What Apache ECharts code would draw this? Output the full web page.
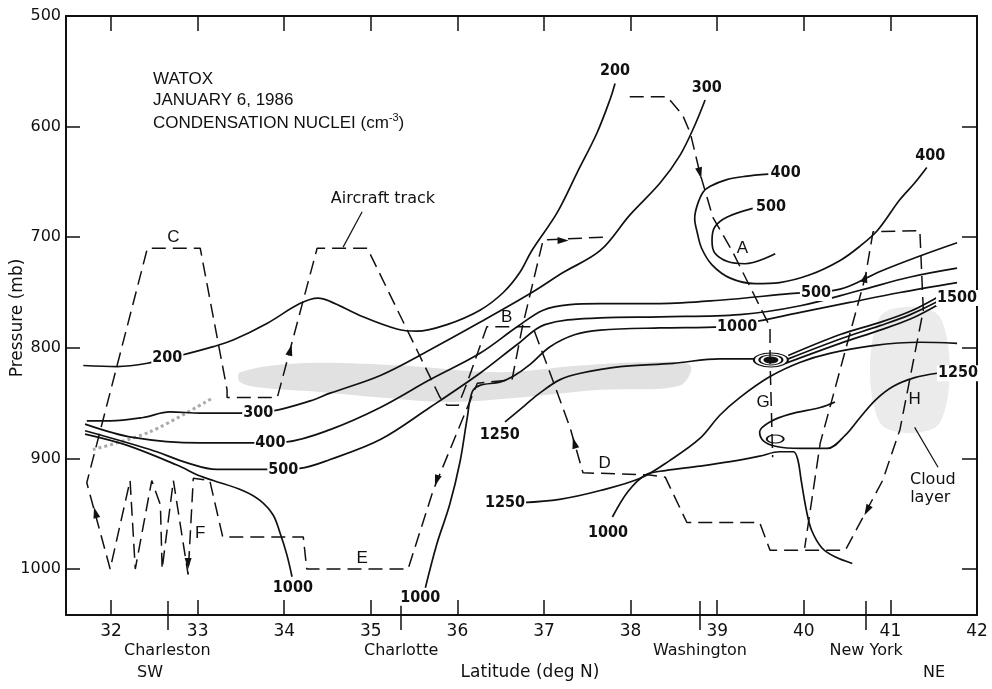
<!DOCTYPE html>
<html><head><meta charset="utf-8">
<script src="https://cdn.jsdelivr.net/npm/echarts@6.0.0/dist/echarts.min.js"></script>
<style>html,body{margin:0;padding:0;background:#fff}#c{width:992px;height:689px}</style>
</head><body><div id="c"></div>
<script>
// ---------- axes ----------
const latTicks = [32,33,34,35,36,37,38,39,40,41,42];
const pressureTicks = [500,600,700,800,900,1000];
const cityLat = [32.65, 35.35, 38.8, 40.72];
const cityNames = ['Charleston','Charlotte','Washington','New York'];

// ---------- contour lines [lat, pressure] ----------
const c200 = [[31.68,816],[32.07,817],[32.42,814],[32.80,807],[33.18,799],[33.41,793],[33.80,778],[34.18,760],[34.39,755],[34.53,758],[34.91,772],[35.30,783],[35.53,785],[35.88,779],[36.26,766],[36.53,750],[36.72,732],[36.86,712],[37.15,678],[37.38,642],[37.61,606],[37.76,576],[37.82,561]];
const c300 = [[31.72,866],[31.99,866],[32.37,863],[32.68,858],[33.03,859],[33.49,859],[33.87,857],[34.30,848],[34.53,841],[35.11,825],[35.68,802],[36.26,777],[36.84,751],[37.22,732],[37.65,712],[37.99,680],[38.34,651],[38.57,626],[38.74,599],[38.86,576]];
const c400 = [[31.70,869],[32.25,881],[33.03,886],[33.64,886],[34.03,885],[34.53,874],[35.11,854],[35.68,829],[36.26,805],[36.69,781],[36.99,766],[37.30,761],[37.65,760],[38.34,760],[39.03,757],[39.84,751],[40.42,747],[40.88,731],[41.34,717],[41.77,705]];
const c500 = [[31.70,875],[32.45,892],[32.88,904],[33.22,910],[33.80,910],[34.18,909],[34.53,901],[35.11,883],[35.68,854],[36.26,823],[36.69,797],[37.01,779],[37.65,773],[38.34,772],[39.26,770],[39.96,762],[40.65,748],[41.23,736],[41.77,728]];
const c1000west = [[31.70,878],[32.18,888],[32.76,906],[33.03,916],[33.18,920],[33.52,929],[33.72,938],[33.87,951],[33.95,967],[34.03,987],[34.09,1007]];
const c1000mid = [[35.63,1017],[35.76,978],[35.91,942],[36.03,903],[36.11,865],[36.17,840],[36.26,834],[36.49,831],[36.64,826],[36.84,815],[37.07,799],[37.36,788],[37.65,784],[38.34,782],[39.05,781],[39.40,777],[39.96,768],[40.53,759],[41.11,750],[41.77,741]];
const c1250upper = [[36.55,867],[36.78,852],[36.95,841],[37.18,829],[37.42,823],[37.88,817],[38.49,814],[39.03,810],[39.43,810]];
const c1250lower = [[36.75,940],[37.18,937],[37.65,929],[38.11,918],[38.45,902],[38.80,882],[39.03,861],[39.26,845],[39.61,826],[39.96,813],[40.30,805],[40.80,798],[41.34,795],[41.77,796]];
const c1000east = [[37.79,953],[37.97,930],[38.17,915],[38.40,911],[38.80,907],[39.15,903],[39.49,898],[39.72,894],[39.88,894],[39.93,901],[39.97,920],[40.03,947],[40.09,965],[40.21,981],[40.36,989],[40.56,995]];
const c1250hook = [[40.36,849],[40.19,854],[39.84,860],[39.61,867],[39.49,876],[39.53,884],[39.67,889],[39.96,891],[40.27,891],[40.48,879],[40.65,863],[40.83,847],[41.03,835],[41.28,827],[41.54,823]];
const c1500a = [[39.82,807],[40.42,788],[40.88,777],[41.23,767],[41.55,754]];
const c1500b = [[39.82,810],[40.42,792],[40.88,780],[41.23,770],[41.55,758]];
const c1500c = [[39.79,814],[40.42,796],[40.88,784],[41.23,774],[41.55,761]];
const c400loop = [[39.59,643],[39.32,645],[39.11,648],[38.92,654],[38.84,659],[38.77,671],[38.74,683],[38.77,696],[38.82,710],[38.94,725],[39.15,737],[39.44,742],[39.72,741],[40.07,734],[40.42,721],[40.65,708],[40.85,694],[41.11,666],[41.28,651],[41.42,637]];
const c500loop = [[39.41,674],[39.11,682],[38.97,691],[38.94,703],[38.97,714],[39.12,722],[39.32,724],[39.67,715]];
const gLoopCenter = [[39.62,811]];
const gLowerLoopCenter = [[39.67,882.5]];

// ---------- aircraft track ----------
const trackMain = [[37.68,700],[36.99,702.5],[36.75,781],[36.63,829],[36.23,832],[35.72,929],[35.43,1000],[34.26,1000],[34.22,971],[33.29,971],[33.14,920],[32.95,918],[32.89,1005],[32.72,920],[32.59,1000],[32.57,942],[32.47,920],[32.28,1000],[32.22,920],[31.99,1000],[31.72,922],[32.42,710],[33.03,710],[33.34,838],[33.34,845],[33.92,845],[34.38,710],[34.96,710],[35.80,845],[35.88,852],[36.01,852],[36.11,832],[36.34,781],[36.87,781],[37.09,827],[37.30,872],[37.45,913],[38.22,915],[38.40,917],[38.65,958],[39.49,958],[39.61,983],[40.48,983],[40.91,920],[41.11,874],[41.38,766],[41.34,694],[40.80,695],[40.71,736],[40.19,886],[40.01,981]];
const trackA = [[37.99,573],[38.42,573],[38.60,589.5],[38.69,606],[38.80,642],[38.95,682],[39.17,712],[39.61,781],[39.61,811],[39.64,899]];
const arrowMarks = [[31.82,949,15],[34.07,802,-15],[37.22,703,-90],[35.76,920,162],[37.35,886,16],[38.80,642,-166],[40.71,736,-14],[40.73,947,152],[32.89,995,180]];
const trackPointer = [[34.90,677],[34.68,709]];
const cloudPointer = [[41.28,872],[41.55,908]];

// ---------- cloud shading ----------
const cloudBand = [[33.49,822],[34.18,814],[35.34,816],[36.49,822],[37.42,816],[38.22,813],[38.69,816],[38.57,834],[37.65,838],[36.72,845],[35.91,849],[35.11,845],[34.41,840],[33.72,836],[33.49,831]];
const cloudH = [[40.88,772],[41.57,772],[41.57,868],[40.88,868]];
const stipple = [[31.79,892],[32.45,876],[33.18,845]];

// ---------- labels ----------
const contourLabels = [[32.65,809,'200'],[37.82,550,'200'],[33.70,859,'300'],[38.88,565,'300'],[33.84,886,'400'],[33.99,910,'500'],[39.79,642,'400'],[39.62,673,'500'],[41.46,626,'400'],[40.14,750.5,'500'],[39.23,781,'1000'],[41.77,755,'1500'],[41.78,823,'1250'],[36.49,879,'1250'],[36.55,940,'1250'],[37.74,967,'1000'],[34.10,1017,'1000'],[35.57,1026,'1000']];
const letterLabels = [[39.29,710,'A'],[36.57,772,'B'],[32.72,700,'C'],[37.70,904,'D'],[34.90,990,'E'],[33.03,967.5,'F'],[39.53,849,'G'],[41.28,847,'H']];
const noteLabels = [[35.14,665,'Aircraft track'],[41.49,919.5,'Cloud'],[41.46,936,'layer']];

const INK = '#111';
const SANS = '"Liberation Sans", Arial, sans-serif';
const WIDE = '"DejaVu Sans", sans-serif';
const NARROW = '"Liberation Sans Narrow", "DejaVu Sans Condensed", sans-serif';
const XMIN = 31.48, XMAX = 42, YMIN = 500, YMAX = 1041.6;

function contour(name, data) {
  return {name, type:'line', data, smooth:0.35, symbol:'none', silent:true, z:3,
    lineStyle:{color:INK, width:1.7}};
}
function polygonSeries(points, fill) {
  return {type:'custom', silent:true, z:1, data:[0],
    renderItem:(params, api) => ({type:'polygon', shape:{points: points.map(p => api.coord(p)), smooth:0.35}, style:{fill}})};
}
function labelSeries(arr, font, size, weight, bg) {
  return {type:'scatter', silent:true, z:10, symbol:'circle', symbolSize:1, itemStyle:{color:'rgba(0,0,0,0)', opacity:1},
    data: arr.map(d => ({value:[d[0], d[1]], name:d[2]})),
    label:{show:true, position:'inside', formatter:'{b}', fontFamily:font, fontSize:size, fontWeight:weight, opacity:1,
      color:INK, textBorderWidth:0, textBorderColor:'transparent', backgroundColor:bg, padding:bg ? [0,1] : 0}};
}
function loop(data, size, filled) {
  return {type:'scatter', silent:true, z:5, data, symbol:'circle', symbolSize:size,
    itemStyle:{color: filled ? INK : 'rgba(0,0,0,0)', borderColor:INK, borderWidth:1.4, opacity:1}};
}

const axisLineStyle = {color:INK, width:2};
const chart = echarts.init(document.getElementById('c'), null, {renderer:'canvas'});
chart.setOption({
  animation:false,
  backgroundColor:'#fff',
  grid:{left:66, right:15, top:16, bottom:74},
  xAxis:[
    {type:'value', position:'bottom', min:XMIN, max:XMAX, splitLine:{show:false},
      axisLine:{lineStyle:axisLineStyle},
      axisTick:{inside:true, length:15, customValues:latTicks, lineStyle:{color:INK, width:1.5}},
      axisLabel:{customValues:latTicks, margin:8, fontSize:17, fontFamily:WIDE, color:INK, formatter:v => String(v)}},
    {type:'value', position:'top', min:XMIN, max:XMAX, splitLine:{show:false},
      axisLine:{lineStyle:axisLineStyle},
      axisTick:{inside:true, length:15, customValues:latTicks.slice(0,-1), lineStyle:{color:INK, width:1.5}},
      axisLabel:{show:false}},
    {type:'value', position:'bottom', min:XMIN, max:XMAX, splitLine:{show:false}, axisLine:{show:false},
      axisTick:{inside:true, length:14, customValues:cityLat, lineStyle:{color:INK, width:1.5}},
      axisLabel:{customValues:cityLat, margin:28, fontSize:16, fontFamily:WIDE, color:INK,
        formatter:v => { let k = 0; cityLat.forEach((c,i) => { if (Math.abs(c - v) < Math.abs(cityLat[k] - v)) k = i; }); return cityNames[k]; }}},
    {type:'value', position:'bottom', min:XMIN, max:XMAX, splitLine:{show:false}, axisLine:{show:false},
      axisTick:{inside:false, length:15, customValues:cityLat, lineStyle:{color:INK, width:1.5}},
      axisLabel:{show:false}}
  ],
  yAxis:[
    {type:'value', position:'left', inverse:true, min:YMIN, max:YMAX, splitLine:{show:false},
      axisLine:{lineStyle:axisLineStyle},
      axisTick:{inside:true, length:14, customValues:pressureTicks, lineStyle:{color:INK, width:1.5}},
      axisLabel:{customValues:pressureTicks, margin:5, fontSize:16, fontFamily:WIDE, color:INK, formatter:v => String(v)}},
    {type:'value', position:'right', inverse:true, min:YMIN, max:YMAX, splitLine:{show:false},
      axisLine:{lineStyle:axisLineStyle},
      axisTick:{inside:true, length:15, customValues:pressureTicks.slice(1), lineStyle:{color:INK, width:1.5}},
      axisLabel:{show:false}}
  ],
  graphic:[
    {type:'text', x:153, y:79, style:{text:'WATOX', font:'17px ' + SANS, fill:INK, verticalAlign:'middle'}},
    {type:'text', x:153, y:100, style:{text:'JANUARY 6, 1986', font:'17px ' + SANS, fill:INK, verticalAlign:'middle'}},
    {type:'text', x:153, y:112, style:{text:'{n|CONDENSATION NUCLEI (cm}{s|-3}{n|)}', fill:INK,
      rich:{n:{fontSize:17, fontFamily:SANS, lineHeight:20, verticalAlign:'bottom'}, s:{fontSize:11, fontFamily:SANS, verticalAlign:'top', lineHeight:20}}}},
    {type:'text', x:18, y:318, rotation:Math.PI/2, style:{text:'Pressure (mb)', font:'17px ' + WIDE, fill:INK, align:'center', verticalAlign:'middle'}},
    {type:'text', x:530, y:673, style:{text:'Latitude (deg N)', font:'17px ' + WIDE, fill:INK, align:'center', verticalAlign:'middle'}},
    {type:'text', x:150, y:673, style:{text:'SW', font:'16px ' + WIDE, fill:INK, align:'center', verticalAlign:'middle'}},
    {type:'text', x:934, y:673, style:{text:'NE', font:'16px ' + WIDE, fill:INK, align:'center', verticalAlign:'middle'}}
  ],
  series:[
    polygonSeries(cloudBand, '#e1e1e1'),
    polygonSeries(cloudH, '#ebebeb'),
    {type:'line', data:stipple, symbol:'none', silent:true, z:2, smooth:0.3, lineStyle:{color:'#aaa', width:3, type:'dotted'}},
    contour('200', c200), contour('300', c300), contour('400', c400), contour('500', c500),
    contour('1000 west', c1000west), contour('1000 mid', c1000mid), contour('1250 upper', c1250upper),
    contour('1250 lower', c1250lower), contour('1000 east', c1000east), contour('1250 hook', c1250hook),
    contour('1500 a', c1500a), contour('1500 b', c1500b), contour('1500 c', c1500c),
    contour('400 loop', c400loop), contour('500 loop', c500loop),
    loop(gLoopCenter, [34,14], false), loop(gLoopCenter, [23,10], false), loop(gLoopCenter, [13,6], true),
    loop(gLowerLoopCenter, [17,8], false),
    {type:'line', data:trackMain, symbol:'none', silent:true, z:4, lineStyle:{color:INK, width:1.5, type:[14,7]}},
    {type:'line', data:trackA, symbol:'none', silent:true, z:4, lineStyle:{color:INK, width:1.5, type:[14,7]}},
    {type:'line', data:trackPointer, symbol:'none', silent:true, z:4, lineStyle:{color:INK, width:1.2}},
    {type:'line', data:cloudPointer, symbol:'none', silent:true, z:4, lineStyle:{color:INK, width:1.2}},
    {type:'scatter', silent:true, z:6, symbol:'triangle', symbolSize:[7,11], itemStyle:{color:INK, opacity:1},
      data: arrowMarks.map(a => ({value:[a[0], a[1]], symbolRotate:a[2]}))},
    labelSeries(contourLabels, NARROW, 16, 'bold', '#fff'),
    labelSeries(letterLabels, SANS, 17, 'normal', null),
    labelSeries(noteLabels, WIDE, 16, 'normal', null)
  ]
});
</script></body></html>
